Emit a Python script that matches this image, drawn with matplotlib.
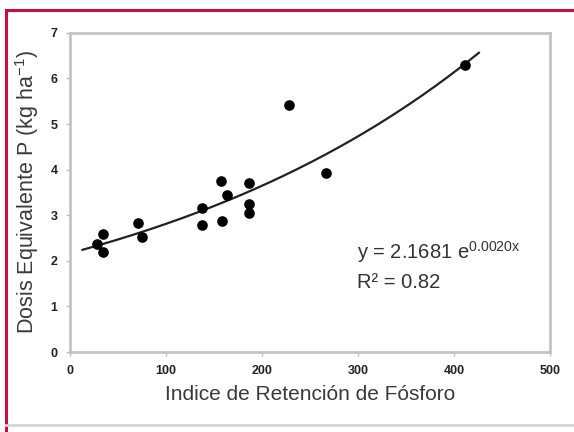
import numpy as np
import matplotlib
matplotlib.use("Agg")
import matplotlib.pyplot as plt
from matplotlib.lines import Line2D

plt.rcParams['font.family'] = ['Liberation Sans', 'DejaVu Sans']
plt.rcParams['mathtext.default'] = 'regular'

# indice de retencion de fosforo vs dosis equivalente P
irp = [28, 34, 34, 71, 75, 137, 138, 157, 158, 164, 187, 187, 187, 228, 267, 412]
dosis = [2.37, 2.58, 2.19, 2.82, 2.53, 3.16, 2.79, 3.75, 2.88, 3.44, 3.70, 3.24, 3.04, 5.42, 3.92, 6.29]

# fitted exponential curve (as drawn)
fit_a = 2.1681
fit_b = 0.0026
fit_x0, fit_x1 = 13, 426

x_ticks = [0, 100, 200, 300, 400, 500]
y_ticks = [0, 1, 2, 3, 4, 5, 6, 7]

fig = plt.figure(figsize=(5.74, 4.32), dpi=100)
ax = fig.add_axes([0.122, 0.185, 0.836, 0.739])

xs = np.linspace(fit_x0, fit_x1, 200)
ax.plot(xs, fit_a * np.exp(fit_b * xs), color='#222222', lw=1.6, zorder=2)
ax.scatter(irp, dosis, s=44, color='black', zorder=3)

ax.set_xlim(0, 500)
ax.set_ylim(0, 7)
ax.set_xticks(x_ticks)
ax.set_yticks(y_ticks)
for lbl in ax.get_xticklabels() + ax.get_yticklabels():
    lbl.set_fontweight('bold')
ax.tick_params(labelsize=9, colors='#bbbbbb', labelcolor='#222222',
               length=3, width=1, pad=6)
for sp in ax.spines.values():
    sp.set_color('#c4c4c4')
    sp.set_linewidth(2)

ax.set_xlabel('Indice de Retención de Fósforo', fontsize=15, color='#3a3a3a', labelpad=6)
ax.set_ylabel('Dosis Equivalente P (kg ha$^{-1}$)', fontsize=15.5, color='#3a3a3a', labelpad=7)

ax.text(299, 2.19, r'y = 2.1681 e$^{0.0020x}$', fontsize=14.5, color='#333333', va='center')
ax.text(299, 1.53, 'R² = 0.82', fontsize=14.5, color='#333333', va='center')

# page frame
fig.add_artist(Line2D([6 / 574, 1], [1 - 10 / 432, 1 - 10 / 432], color='#c8103c', lw=2.2))
fig.add_artist(Line2D([6 / 574, 6 / 574], [0, 1 - 10 / 432], color='#c8103c', lw=2.2))
fig.add_artist(Line2D([6 / 574, 1], [1 - 425 / 432, 1 - 425 / 432], color='#d6d6d6', lw=2))

fig.savefig('out.png', dpi=100)
